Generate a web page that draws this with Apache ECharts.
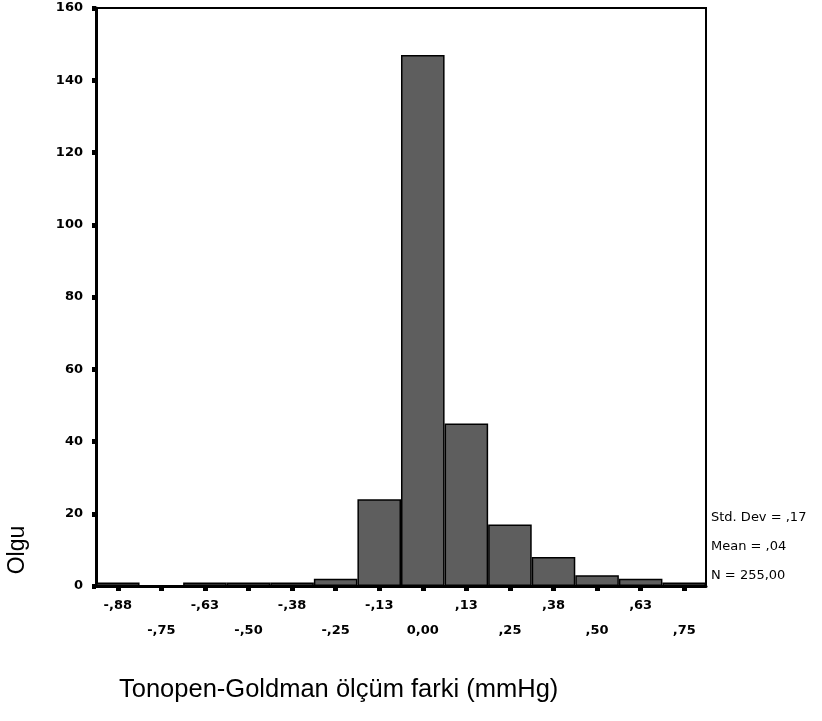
<!DOCTYPE html>
<html><head><meta charset="utf-8">
<script src="https://cdn.jsdelivr.net/npm/echarts@6/dist/echarts.min.js"></script>
<style>html,body{margin:0;padding:0;background:#fff}#c{width:822px;height:721px}</style>
</head><body><div id="c"></div>
<script>
const categories = ["-,88","-,75","-,63","-,50","-,38","-,25","-,13","0,00",",13",",25",",38",",50",",63",",75"];
const counts = [1,0,1,1,1,2,24,147,45,17,8,3,2,1];
const yTicks = [0,20,40,60,80,100,120,140,160];
const statsLines = ["Std. Dev = ,17","Mean = ,04","N = 255,00"];
const xTitle = "Tonopen-Goldman ölçüm farki (mmHg)";
const yTitle = "Olgu";

const chart = echarts.init(document.getElementById('c'), null, {renderer:'canvas'});
const lblFont = 'Tahoma, "DejaVu Sans", sans-serif';
chart.setOption({
  animation:false,
  backgroundColor:'#fff',
  grid:{left:96,right:116,top:8,bottom:135,show:true,borderColor:'#000',borderWidth:2,backgroundColor:'transparent'},
  xAxis:{
    type:'category', data:categories, boundaryGap:true,
    axisLine:{show:true,lineStyle:{color:'#000',width:3}},
    axisTick:{show:true,alignWithLabel:true,length:5,inside:false,lineStyle:{color:'#000',width:5}},
    axisLabel:{interval:0,color:'#000',fontFamily:lblFont,fontWeight:'bold',fontSize:13,margin:7,lineHeight:25,
      formatter:(v,i)=> i%2===1 ? '\n'+v : v}
  },
  yAxis:{
    type:'value', min:yTicks[0], max:yTicks[yTicks.length-1], interval:20,
    splitLine:{show:false},
    axisLine:{show:true,lineStyle:{color:'#000',width:3}},
    axisTick:{show:true,length:4,lineStyle:{color:'#000',width:5}},
    axisLabel:{color:'#000',fontFamily:lblFont,fontWeight:'bold',fontSize:13,margin:13}
  },
  series:[{
    type:'bar', data:counts, barCategoryGap:'0%',
    itemStyle:{color:'#5e5e5e',borderColor:'#000',borderWidth:1.5}
  }],
  graphic:[
    {type:'text',left:711,top:503,style:{text:statsLines.join('\n'),fill:'#000',font:'13px '+lblFont,lineHeight:29}},
    {type:'text',x:18,y:550,rotation:Math.PI/2,style:{text:yTitle,fill:'#000',font:'23px "Liberation Sans", Arial, sans-serif',textAlign:'center',textVerticalAlign:'middle'}},
    {type:'text',left:119,top:677,style:{text:xTitle,fill:'#000',font:'25.5px "Liberation Sans", Arial, sans-serif'}}
  ]
});
</script></body></html>
